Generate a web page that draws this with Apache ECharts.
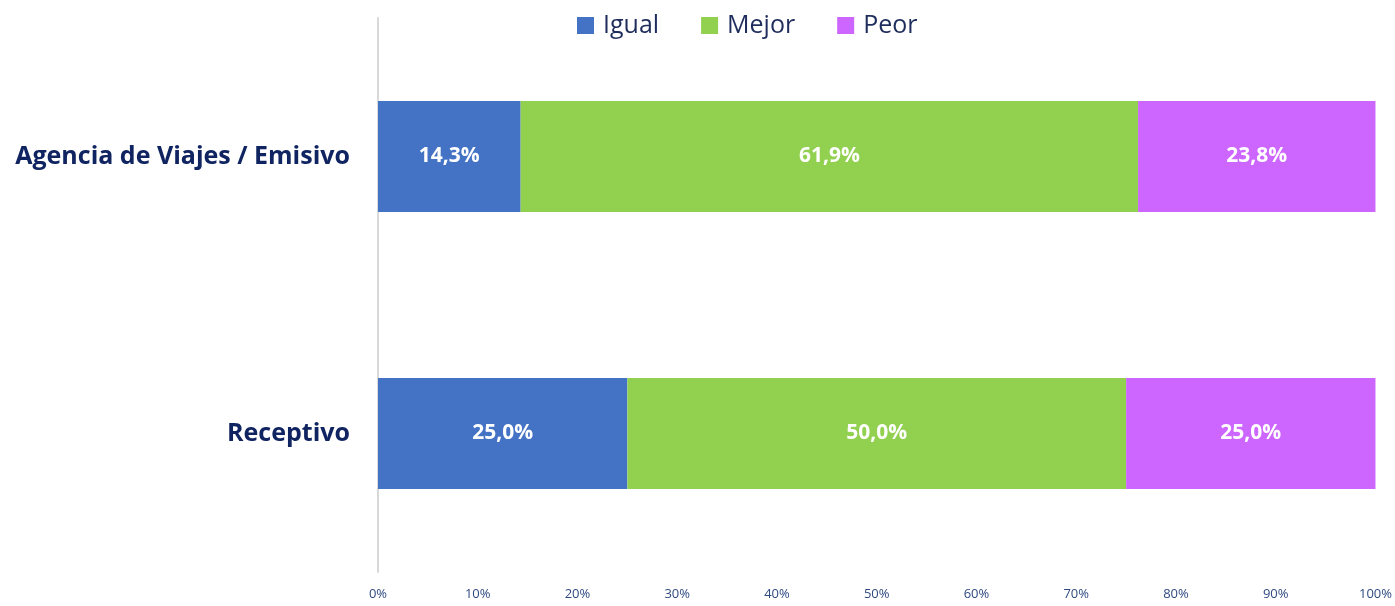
<!DOCTYPE html>
<html>
<head>
<meta charset="utf-8">
<script src="https://cdn.jsdelivr.net/npm/echarts@6/dist/echarts.min.js"></script>
<style>
  html, body { margin: 0; padding: 0; background: #fff; }
  #chart { width: 1395px; height: 606px; }
</style>
</head>
<body>
<div id="chart"></div>
<script>
const categories = ["Agencia de Viajes / Emisivo", "Receptivo"];
const seriesNames = ["Igual", "Mejor", "Peor"];
const igual = [14.3, 25.0];
const mejor = [61.9, 50.0];
const peor = [23.8, 25.0];
const colors = ["#4472C4", "#92D050", "#CC66FF"];

const chart = echarts.init(document.getElementById("chart"));
const font = "'Open Sans', 'Noto Sans', sans-serif";

function makeSeries(name, values, color) {
  return {
    name,
    type: "bar",
    stack: "total",
    barWidth: 111,
    data: values,
    itemStyle: { color },
    label: {
      show: true,
      color: "#fff",
      fontWeight: "bold",
      fontSize: 21,
      fontFamily: font,
      formatter: (p) => p.value.toFixed(1).replace(".", ",") + "%",
    },
  };
}

chart.setOption({
  animation: false,
  color: colors,
  legend: {
    top: 8,
    left: 572,
    itemWidth: 17,
    itemHeight: 17,
    itemGap: 42,
    icon: "rect",
    textStyle: { color: "#1F2D5C", fontSize: 25, fontFamily: font, padding: [0, 0, 0, 4] },
    data: seriesNames,
  },
  grid: { left: 378, right: 16, top: 18, bottom: 34, containLabel: false },
  xAxis: {
    type: "value",
    min: 0,
    max: 100,
    interval: 10,
    axisLine: { show: false },
    axisTick: { show: false },
    splitLine: { show: false },
    axisLabel: {
      color: "#2F4A80",
      fontSize: 13,
      fontFamily: font,
      margin: 16,
      formatter: (v) => v + "%",
    },
  },
  yAxis: {
    type: "category",
    data: categories,
    inverse: true,
    axisLine: { show: true, lineStyle: { color: "#D9D9D9", width: 2 } },
    axisTick: { show: false },
    axisLabel: {
      color: "#0F2460",
      fontSize: 25,
      fontWeight: "bold",
      fontFamily: font,
      margin: 28,
    },
  },
  series: [
    makeSeries(seriesNames[0], igual, colors[0]),
    makeSeries(seriesNames[1], mejor, colors[1]),
    makeSeries(seriesNames[2], peor, colors[2]),
  ],
});
</script>
</body>
</html>
